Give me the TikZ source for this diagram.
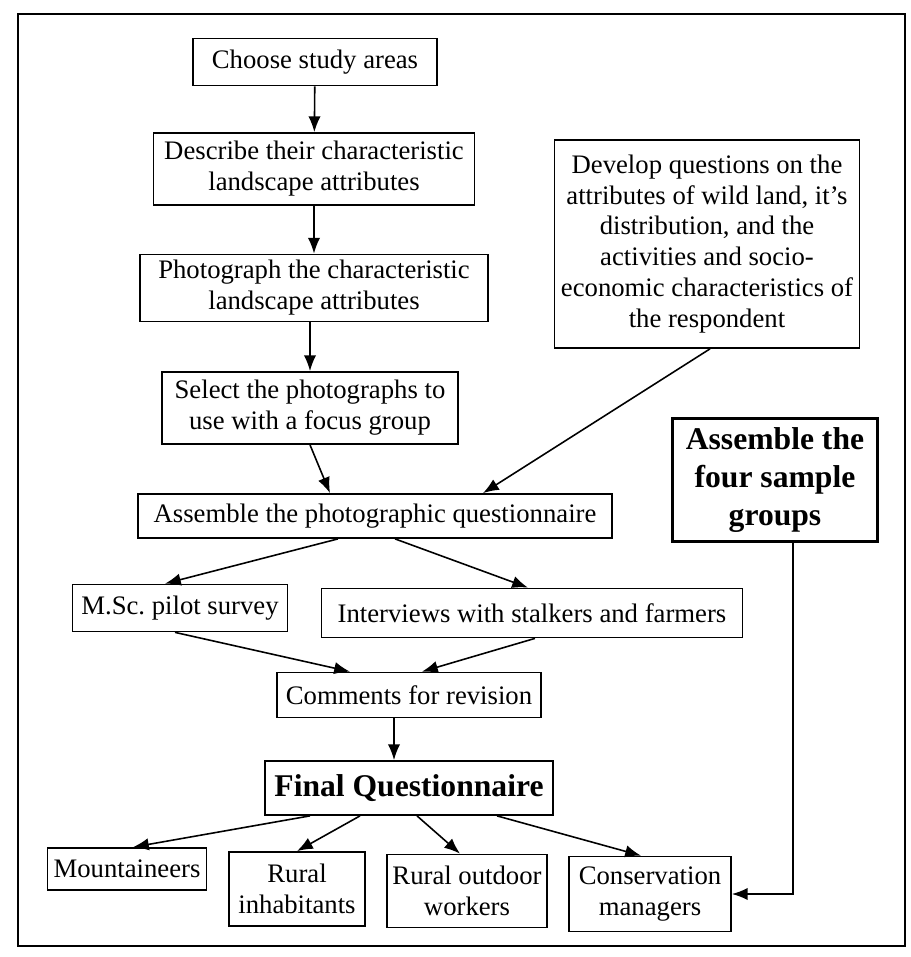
\documentclass[tikz,border=0pt]{standalone}
\usepackage{fontspec}
\setmainfont{Liberation Serif}
\usetikzlibrary{arrows.meta,calc}

\begin{document}
\begin{tikzpicture}[x=0.02cm,y=-0.02cm,
  box/.style={draw,line width=1pt,align=center,inner sep=1pt,font=\fontsize{15.2}{17.6}\selectfont},
  bigbox/.style={box,line width=1.3pt,font=\bfseries\fontsize{18}{21.6}\selectfont},
  arr/.style={-{Latex[length=9pt,width=7pt]},line width=0.9pt}]
\useasboundingbox (0,0) rectangle (910,957);
\draw[line width=1pt] (18,14) rectangle (905,946);
\node[box,minimum width=4.88cm,minimum height=0.94cm] (choose) at (315,62) {Choose study areas};
\node[box,minimum width=6.42cm,minimum height=1.44cm] (describe) at (314,169) {Describe their characteristic\\landscape attributes};
\node[box,minimum width=6.96cm,minimum height=1.34cm] (photo) at (314,288) {Photograph the characteristic\\landscape attributes};
\node[box,minimum width=5.92cm,minimum height=1.44cm] (select) at (310,408) {Select the photographs to\\use with a focus group};
\node[box,minimum width=6.1cm,minimum height=4.16cm] (develop) at (707,244) {Develop questions on the\\attributes of wild land, it's\\distribution, and the\\activities and socio-\\economic characteristics of\\the respondent};
\node[box,minimum width=9.48cm,minimum height=0.88cm] (asm) at (375,516) {Assemble the photographic questionnaire};
\node[bigbox,minimum width=4.1cm,minimum height=2.46cm] (four) at (775,480) {Assemble the\\four sample\\groups};
\node[box,minimum width=4.3cm,minimum height=0.94cm] (msc) at (180,608) {M.Sc.\ pilot survey};
\node[box,minimum width=8.42cm,minimum height=0.98cm] (intv) at (532,613) {Interviews with stalkers and farmers};
\node[box,minimum width=5.28cm,minimum height=0.9cm] (comm) at (409,695) {Comments for revision};
\node[bigbox,line width=1pt,minimum width=5.76cm,minimum height=1.08cm] (final) at (409,788) {Final Questionnaire};
\node[box,minimum width=3.18cm,minimum height=0.84cm] (mount) at (127,869) {Mountaineers};
\node[box,minimum width=2.72cm,minimum height=1.48cm] (rinh) at (297,889) {Rural\\inhabitants};
\node[box,minimum width=3.2cm,minimum height=1.46cm] (rout) at (467,891) {Rural outdoor\\workers};
\node[box,minimum width=3.24cm,minimum height=1.5cm] (cons) at (650,894) {Conservation\\managers};

\draw[arr] (choose) -- (describe);
\draw[arr] (describe) -- (photo);
\draw[arr] (photo.south -| select.north) -- (select.north);
\draw[arr] (select.south) -- ($(asm.north)+(-45,0)$);
\draw[arr] ($(develop.south)+(3,0)$) -- ($(asm.north)+(108,0)$);
\draw[arr] ($(asm.south)+(-37,0)$) -- ($(msc.north)+(-15,0)$);
\draw[arr] ($(asm.south)+(20,0)$) -- ($(intv.north)+(-4,0)$);
\draw[arr] ($(msc.south)+(-5,0)$) -- ($(comm.north)+(-59,0)$);
\draw[arr] ($(intv.south)+(3,0)$) -- ($(comm.north)+(13,0)$);
\draw[arr] ($(comm.south)+(-15,0)$) -- ($(final.north)+(-15,0)$);
\draw[arr] ($(final.south)+(-99,0)$) -- ($(mount.north)+(6,0)$);
\draw[arr] ($(final.south)+(-49,0)$) -- (rinh.north);
\draw[arr] ($(final.south)+(8,0)$) -- ($(rout.north)+(-7,0)$);
\draw[arr] ($(final.south)+(88,0)$) -- ($(cons.north)+(-9,0)$);
\draw[arr] ($(four.south)+(18,0)$) |- (cons.east);
\end{tikzpicture}
\end{document}
